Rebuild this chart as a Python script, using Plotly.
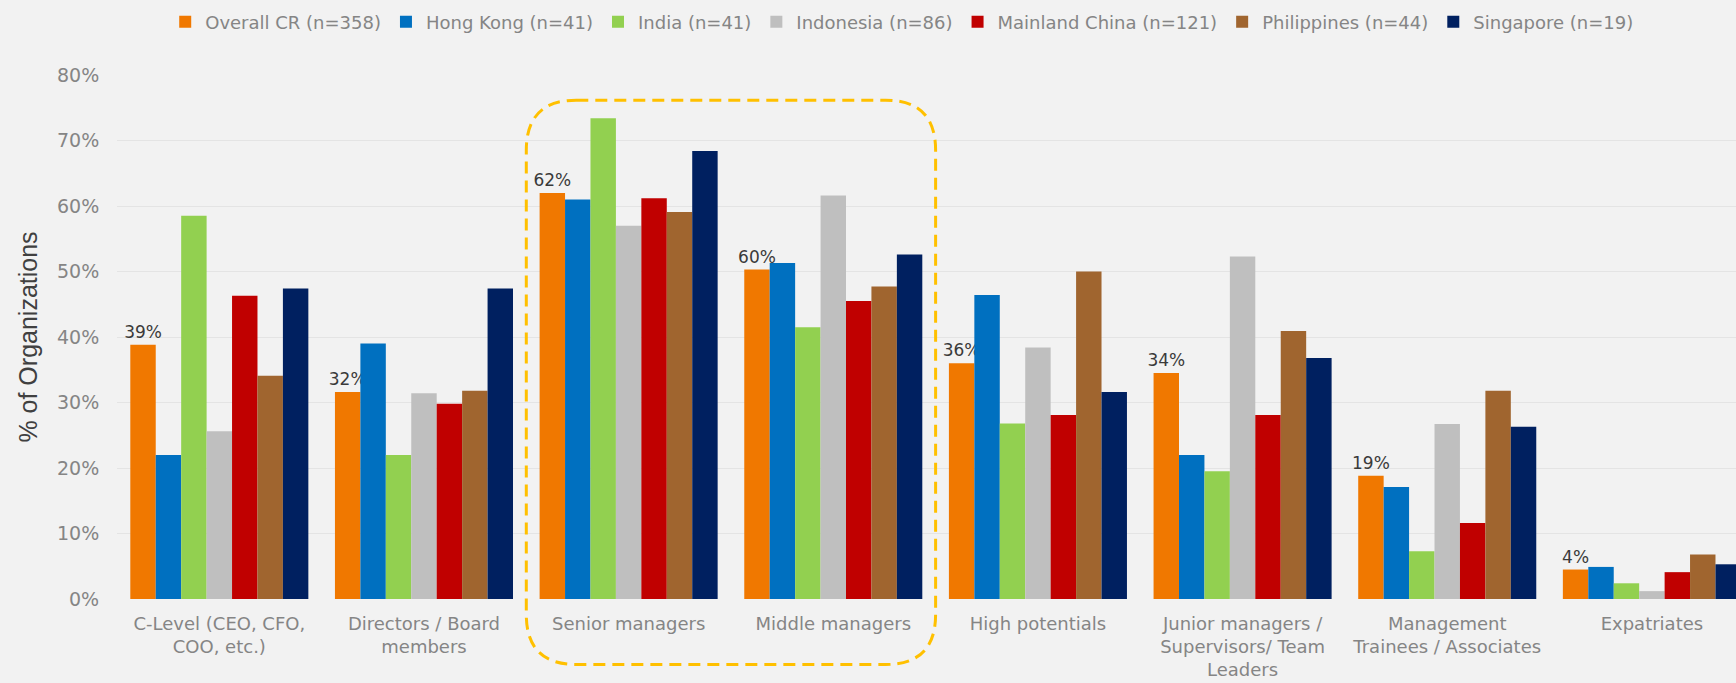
import plotly.graph_objects as go

categories = [
    "C-Level (CEO, CFO,<br>COO, etc.)",
    "Directors / Board<br>members",
    "Senior managers",
    "Middle managers",
    "High potentials",
    "Junior managers /<br>Supervisors/ Team<br>Leaders",
    "Management<br>Trainees / Associates",
    "Expatriates",
]

series_names = [
    "Overall CR (n=358)",
    "Hong Kong (n=41)",
    "India (n=41)",
    "Indonesia (n=86)",
    "Mainland China (n=121)",
    "Philippines (n=44)",
    "Singapore (n=19)",
]

overall_cr     = [38.8, 31.6, 62.0, 50.3, 36.0, 34.5, 18.8, 4.5]
hong_kong      = [22.0, 39.0, 61.0, 51.3, 46.4, 22.0, 17.1, 4.9]
india          = [58.5, 22.0, 73.4, 41.5, 26.8, 19.5, 7.3, 2.4]
indonesia      = [25.6, 31.4, 57.0, 61.6, 38.4, 52.3, 26.7, 1.2]
mainland_china = [46.3, 29.8, 61.2, 45.5, 28.1, 28.1, 11.6, 4.1]
philippines    = [34.1, 31.8, 59.1, 47.7, 50.0, 40.9, 31.8, 6.8]
singapore      = [47.4, 47.4, 68.4, 52.6, 31.6, 36.8, 26.3, 5.3]

overall_labels = ["39%", "32%", "62%", "60%", "36%", "34%", "19%", "4%"]

colors = ["#F07800", "#0070C0", "#92D050", "#BFBFBF", "#C00000", "#A0652F", "#002060"]

all_series = [overall_cr, hong_kong, india, indonesia, mainland_china, philippines, singapore]

W, H = 1736, 683
ML, MR, MT, MB = 116.6, 0, 75, 84
x_lo, x_hi = -0.5, 7.411

wide = "DejaVu Sans, Verdana, sans-serif"

fig = go.Figure()
for i, (name, vals, col) in enumerate(zip(series_names, all_series, colors)):
    kw = {}
    if i == 0:
        kw = dict(text=overall_labels, textposition="outside",
                  textfont=dict(size=17, color="#3A3A3A", family=wide),
                  constraintext="none")
    fig.add_trace(go.Bar(x=list(range(len(categories))), y=vals, name=name,
                         marker=dict(color=col, line=dict(width=0)), **kw))

# highlight box around Senior / Middle managers (categories 2 and 3)
span = x_hi - x_lo
x0 = (1.5 - x_lo) / span
x1 = (3.5 - x_lo) / span
y1 = 0.952
y0 = -0.125
pw = W - ML - MR
ph = H - MT - MB
rx = 50 / pw
ry = 50 / ph
path = (f"M {x0+rx},{y1} L {x1-rx},{y1} Q {x1},{y1} {x1},{y1-ry} "
        f"L {x1},{y0+ry} Q {x1},{y0} {x1-rx},{y0} "
        f"L {x0+rx},{y0} Q {x0},{y0} {x0},{y0+ry} "
        f"L {x0},{y1-ry} Q {x0},{y1} {x0+rx},{y1} Z")
fig.add_shape(type="path", path=path, xref="paper", yref="paper",
              line=dict(color="#FFC000", width=3, dash="12px,7px"), layer="above")

fig.update_layout(
    width=W, height=H,
    margin=dict(l=ML, r=MR, t=MT, b=MB, pad=0),
    paper_bgcolor="#F2F2F2", plot_bgcolor="#F2F2F2",
    barmode="group", bargap=0.13, bargroupgap=0,
    showlegend=True,
    legend=dict(orientation="h", x=0.485, xanchor="center", y=1.101, yanchor="middle",
                font=dict(size=18, color="#858585", family=wide),
                itemwidth=30, bgcolor="rgba(0,0,0,0)"),
    xaxis=dict(range=[x_lo, x_hi], tickmode="array",
               tickvals=list(range(len(categories))), ticktext=categories,
               tickfont=dict(size=18, color="#858585", family=wide),
               ticks="outside", ticklen=8, tickcolor="rgba(0,0,0,0)",
               showgrid=False, zeroline=False, showline=False),
    yaxis=dict(range=[0, 80], dtick=10, ticksuffix="%",
               tickfont=dict(size=19, color="#858585", family=wide),
               ticks="outside", ticklen=13, tickcolor="rgba(0,0,0,0)",
               showgrid=True, gridcolor="#E4E4E4", gridwidth=1,
               zeroline=False, showline=False,
               title=dict(text="% of Organizations", standoff=12,
                          font=dict(size=25, color="#404040", family="Liberation Sans, Arial, sans-serif"))),
    font=dict(family=wide),
)

fig.write_html("out.html")
